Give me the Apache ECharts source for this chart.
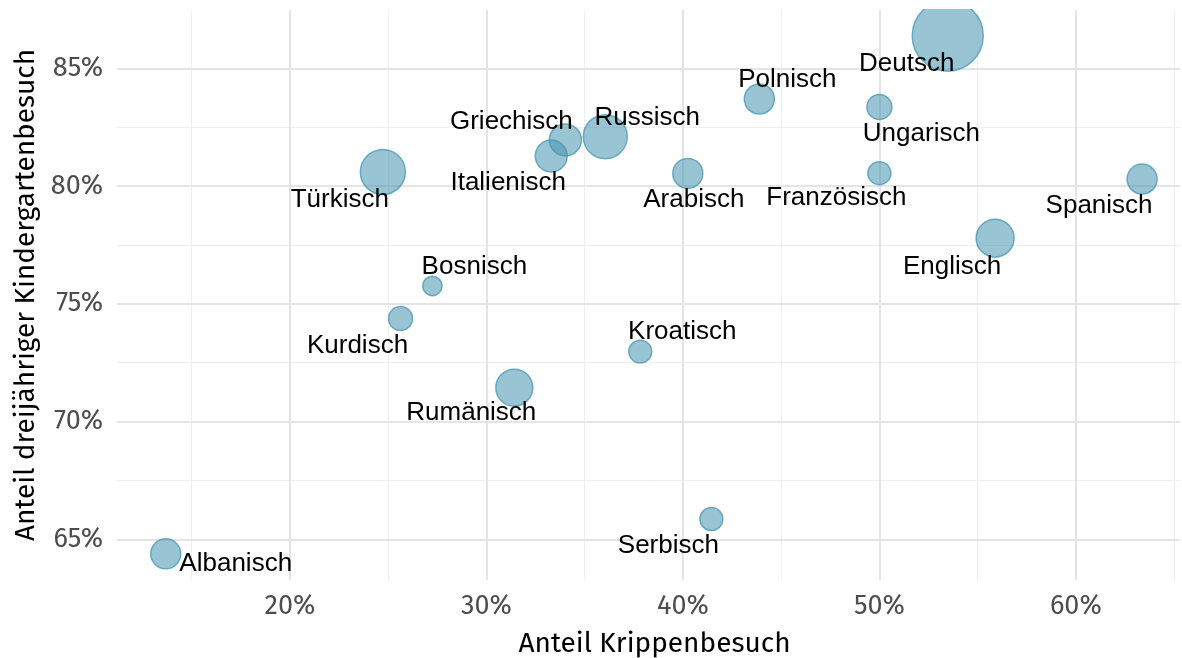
<!DOCTYPE html>
<html>
<head>
<meta charset="utf-8">
<script src="https://cdn.jsdelivr.net/npm/echarts@6/dist/echarts.min.js"></script>
<style>
html,body{margin:0;padding:0;background:#fff;}
#chart{width:1182px;height:658px;}
</style>
</head>
<body>
<div id="chart"></div>
<script>
// ---- data ----
const languages = ["Deutsch","Polnisch","Ungarisch","Französisch","Spanisch","Englisch","Russisch","Griechisch","Italienisch","Arabisch","Türkisch","Bosnisch","Kurdisch","Kroatisch","Rumänisch","Serbisch","Albanisch"];
const krippe = [53.48,43.89,50.0,50.0,63.37,55.89,36.05,34.02,33.30,40.25,24.73,27.25,25.63,37.83,31.42,41.45,13.68];
const kindergarten = [86.39,83.70,83.36,80.55,80.30,77.79,82.10,81.96,81.28,80.54,80.60,75.76,74.38,72.97,71.44,65.86,64.38];
const groupSize = [1260,225,156,132,225,361,484,256,256,225,506,94,144,132,342,132,225];
const xTicks = [20,30,40,50,60];
const xMinor = [15,25,35,45,55,65];
const yTicks = [65,70,75,80,85];
const yMinor = [67.5,72.5,77.5,82.5,87.5];

// ---- layout (label placement, px) ----
const labelOffsets = {
  "Deutsch":[-41,28],"Polnisch":[28,-19],"Ungarisch":[42,27],"Französisch":[-43,25],
  "Spanisch":[-43,27],"Englisch":[-43,29],"Russisch":[42,-19],"Griechisch":[-54,-18],
  "Italienisch":[-43,27],"Arabisch":[6,26],"Türkisch":[-43,28],"Bosnisch":[42,-19],
  "Kurdisch":[-43,27],"Kroatisch":[42,-20],"Rumänisch":[-43,25],"Serbisch":[-43,27],
  "Albanisch":[70,10]
};

const axisFont = "'Fira Sans','Open Sans','Lato',sans-serif";
const points = languages.map((name,i)=>({
  name: name,
  value: [krippe[i], kindergarten[i], groupSize[i]]
}));

function gridLines(axis, vals, width, color){
  return vals.map(v=>({ [axis]: v, lineStyle:{ color: color, width: width, type:'solid' } }));
}

const chart = echarts.init(document.getElementById('chart'), null, {renderer:'canvas'});
chart.setOption({
  animation:false,
  grid:{ left:117, right:2, top:10, bottom:78, outerBoundsMode:'none', containLabel:false },
  graphic:[{ type:'rect', z:100, silent:true, shape:{ x:0, y:0, width:1182, height:9 }, style:{ fill:'#fff' } }],
  xAxis:{
    type:'value', min:11.2, max:65.3,
    name:'Anteil Krippenbesuch', nameLocation:'middle', nameGap:50,
    nameTextStyle:{ color:'#000', fontSize:28, fontFamily:axisFont, padding:[0,0,0,12] },
    axisLine:{show:false}, axisTick:{show:false}, splitLine:{show:false},
    axisLabel:{ customValues:xTicks, formatter:v=>v+'%', color:'#4d4d4d', fontSize:27, fontFamily:axisFont, margin:13 }
  },
  yAxis:{
    type:'value', min:63.27, max:87.48,
    name:'Anteil dreijähriger Kindergartenbesuch', nameLocation:'middle', nameGap:71, nameRotate:90,
    nameTextStyle:{ color:'#000', fontSize:28, fontFamily:axisFont },
    axisLine:{show:false}, axisTick:{show:false}, splitLine:{show:false},
    axisLabel:{ customValues:yTicks, formatter:v=>v+'%', color:'#4d4d4d', fontSize:27, fontFamily:axisFont, margin:14 }
  },
  series:[
    {
      type:'scatter', data:[], silent:true, z:0,
      markLine:{
        silent:true, z:0, symbol:['none','none'], label:{show:false}, animation:false,
        data: [].concat(
          gridLines('xAxis', xMinor, 1, '#efefef'),
          gridLines('yAxis', yMinor, 1, '#efefef'),
          gridLines('xAxis', xTicks, 2, '#e4e4e4'),
          gridLines('yAxis', yTicks, 2, '#e4e4e4')
        )
      }
    },
    {
      type:'scatter', z:3,
      data: points,
      symbolSize: d => 2*Math.sqrt(d[2]),
      itemStyle:{ color:'rgba(72,150,176,0.56)', borderColor:'rgba(72,150,176,0.75)', borderWidth:1.5, opacity:1 },
      label:{ show:true, position:'inside', formatter:p=>p.name, color:'#000', fontSize:26, fontFamily:"'Liberation Sans',Arial,sans-serif", align:'center', verticalAlign:'middle' },
      labelLayout: function(params){
        const off = labelOffsets[languages[params.dataIndex]] || [0,0];
        return { dx: off[0], dy: off[1], hideOverlap:false };
      },
      emphasis:{ disabled:true }
    }
  ]
});
</script>
</body>
</html>
